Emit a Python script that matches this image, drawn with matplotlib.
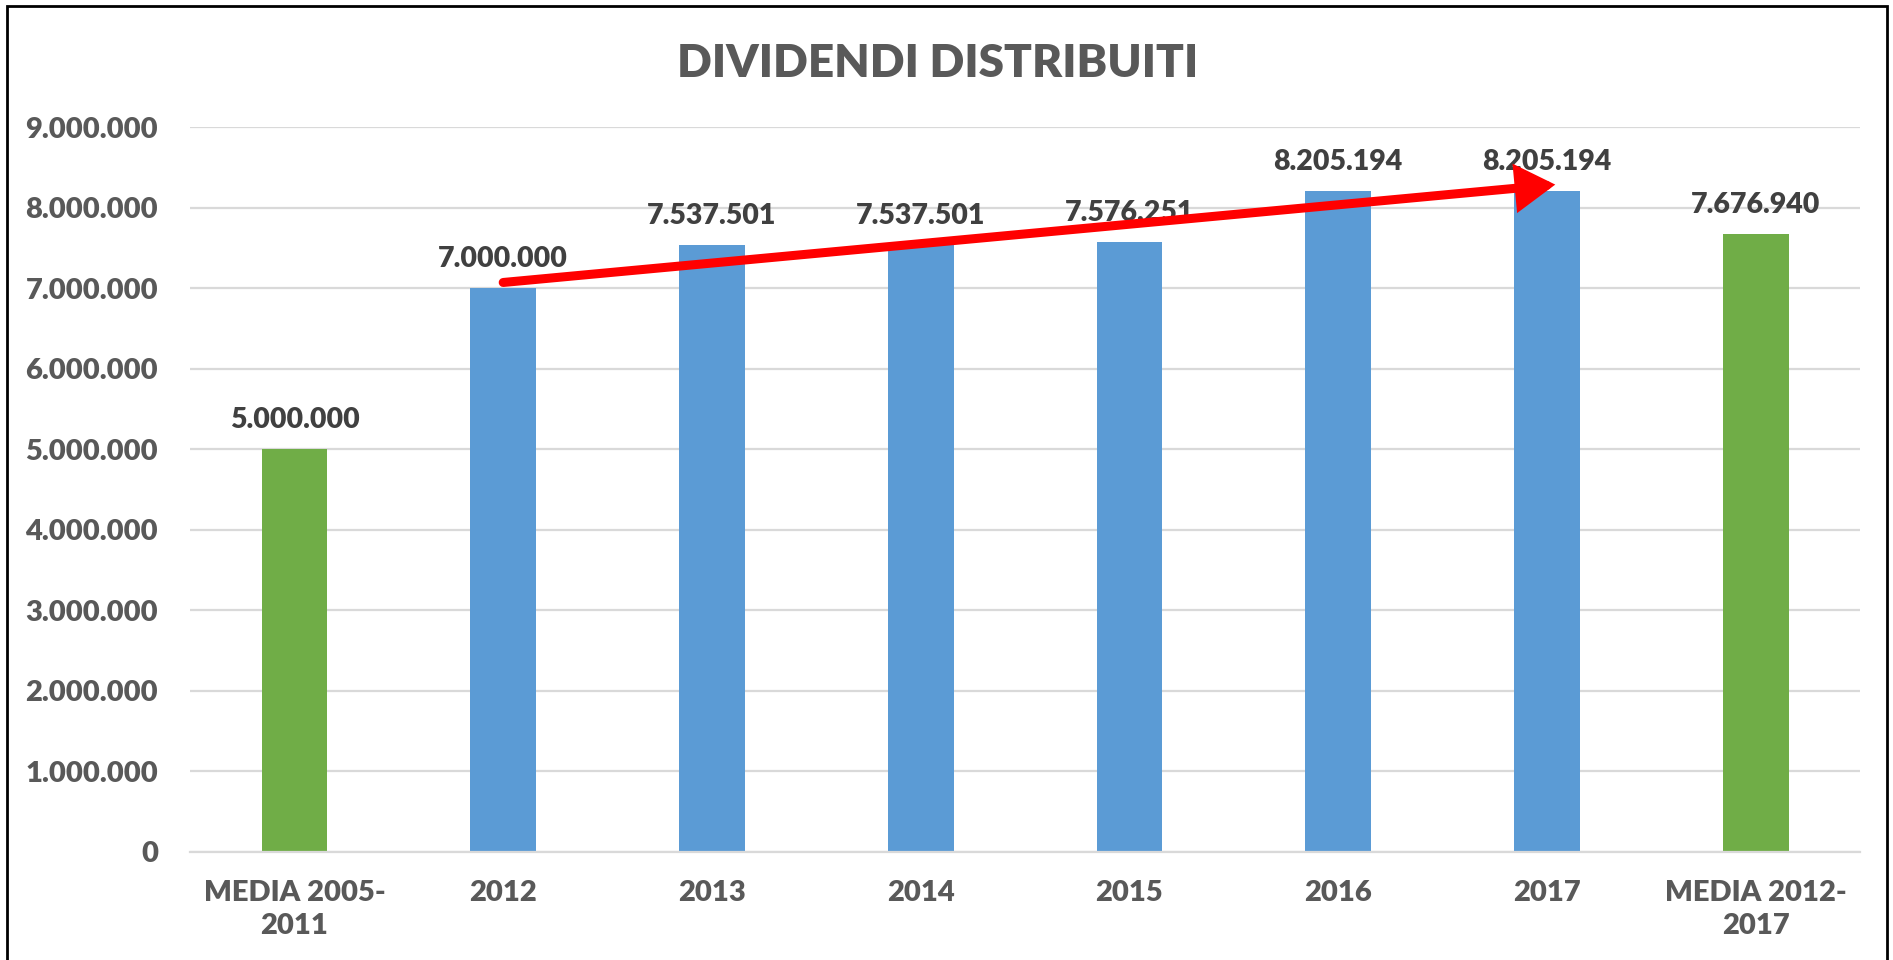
import matplotlib.pyplot as plt
from matplotlib.patches import Rectangle
from matplotlib.ticker import FuncFormatter

plt.rcParams['font.family'] = ['Lato', 'DejaVu Sans']

Categories = ["MEDIA 2005-\n2011", "2012", "2013", "2014", "2015", "2016", "2017", "MEDIA 2012-\n2017"]
Dividendi  = [5000000, 7000000, 7537501, 7537501, 7576251, 8205194, 8205194, 7676940]
IsMedia    = [True, False, False, False, False, False, False, True]

Blue  = "#5B9BD5"
Green = "#70AD47"
Grey  = "#595959"
Peso  = "heavy"

def fmt(v, pos=None):
    return f"{int(v):,}".replace(",", ".")

fig = plt.figure(figsize=(18.93, 9.6), dpi=100)
ax = fig.add_axes([0.1004, 0.1125, 0.8822, 0.7552])

x = list(range(len(Categories)))
colors = [Green if m else Blue for m in IsMedia]
ax.bar(x, Dividendi, width=0.315, color=colors, zorder=2)

for i, v in zip(x, Dividendi):
    ax.annotate(fmt(v), (i, v), xytext=(0, 11.5), textcoords="offset points",
                ha="center", va="bottom", fontsize=20.5, fontweight=Peso, color="#404040", zorder=4)

# freccia rossa 2012 -> 2017
ax.annotate("", xy=(6.04, Dividendi[6] + 80000), xytext=(1.0, Dividendi[1] + 70000),
            arrowprops=dict(arrowstyle="-|>,head_length=0.9,head_width=0.55", color="red",
                            lw=6.5, shrinkA=0, shrinkB=0, mutation_scale=22, joinstyle="miter"),
            zorder=5)

ax.set_ylim(0, 9000000)
ax.set_xlim(-0.5, len(Categories) - 0.5)
ax.set_yticks(range(0, 9000001, 1000000))
ax.yaxis.set_major_formatter(FuncFormatter(fmt))
ax.set_xticks(x)
ax.set_xticklabels(Categories, linespacing=1.35)
ax.grid(axis="y", color="#D9D9D9", lw=1.6, zorder=0)
for s in ["top", "right", "left"]:
    ax.spines[s].set_visible(False)
ax.spines["bottom"].set_color("#D9D9D9")
ax.spines["bottom"].set_linewidth(1.6)
ax.tick_params(axis="both", length=0, labelsize=21, labelcolor=Grey)
ax.tick_params(axis="y", pad=23)
ax.tick_params(axis="x", pad=20)
for lab in ax.get_xticklabels() + ax.get_yticklabels():
    lab.set_fontweight(Peso)

fig.text(0.4955, 0.934, "DIVIDENDI DISTRIBUITI", ha="center", va="center",
         fontsize=33, fontweight=Peso, color=Grey)

fig.patches.append(Rectangle((7 / 1893, -0.05), 1880 / 1893, 1.05 - 6 / 960,
                             transform=fig.transFigure, fill=False, edgecolor="black", lw=2))

plt.savefig("out.png", dpi=100)
plt.close()
